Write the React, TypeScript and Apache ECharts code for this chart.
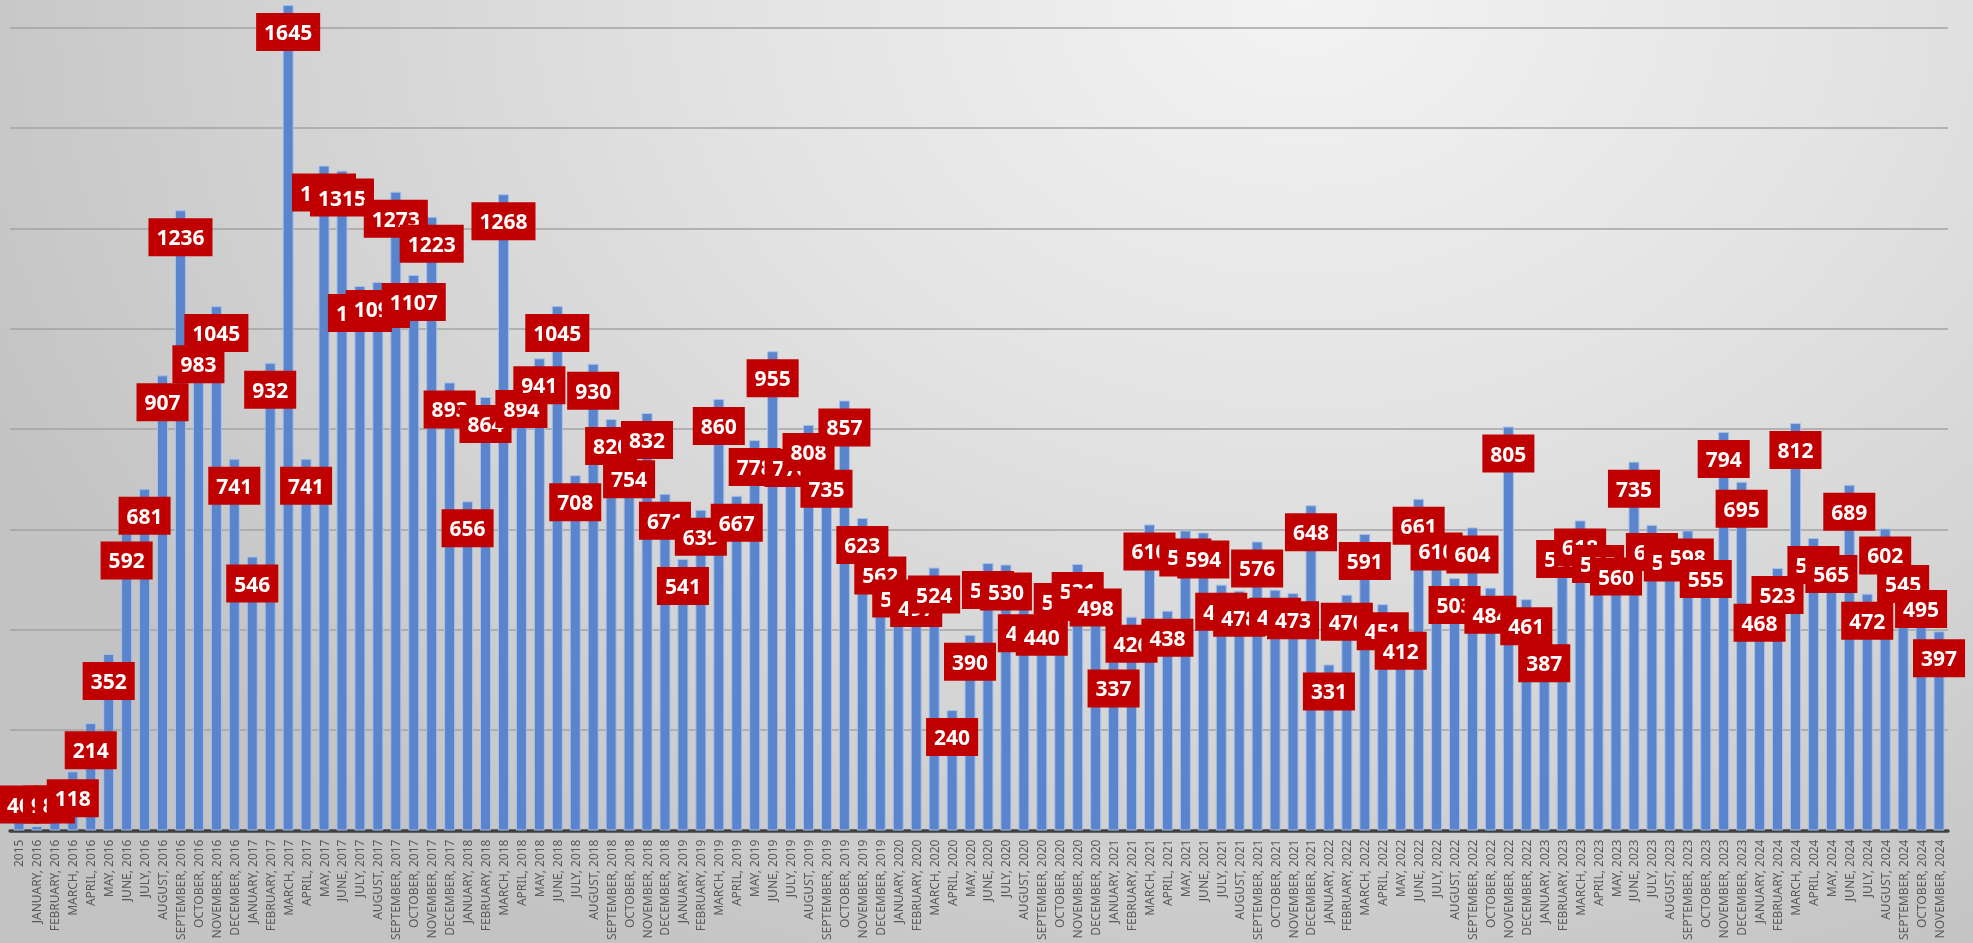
import React, { useEffect, useRef } from 'react';
import * as echarts from 'echarts';

const MONTHS = [
  'JANUARY', 'FEBRUARY', 'MARCH', 'APRIL', 'MAY', 'JUNE',
  'JULY', 'AUGUST', 'SEPTEMBER', 'OCTOBER', 'NOVEMBER', 'DECEMBER',
];
const YEARS = [2016, 2017, 2018, 2019, 2020, 2021, 2022, 2023, 2024];
const FIRST_LABEL = '2015';
const CATEGORY_COUNT = 108;

const categories: string[] = [
  FIRST_LABEL,
  ...YEARS.flatMap((y) => MONTHS.map((m) => `${m}, ${y}`)),
].slice(0, CATEGORY_COUNT);

// monthly values
const v2015 = [40];
const v2016 = [9, 85, 118, 214, 352, 592, 681, 907, 1236, 983, 1045, 741];
const v2017 = [546, 932, 1645, 741, 1325, 1315, 1085, 1093, 1273, 1107, 1223, 893];
const v2018 = [656, 864, 1268, 894, 941, 1045, 708, 930, 820, 754, 832, 671];
const v2019 = [541, 639, 860, 667, 778, 955, 776, 808, 735, 857, 623, 562];
const v2020 = [516, 497, 524, 240, 390, 533, 530, 447, 440, 509, 531, 498];
const v2021 = [337, 426, 610, 438, 598, 594, 490, 478, 576, 480, 473, 648];
const v2022 = [331, 470, 591, 451, 412, 661, 610, 503, 604, 484, 805, 461];
const v2023 = [387, 595, 618, 585, 560, 735, 609, 588, 598, 555, 794, 695];
const v2024 = [468, 523, 812, 583, 565, 689, 472, 602, 545, 495, 397];

const values: number[] = [
  ...v2015, ...v2016, ...v2017, ...v2018, ...v2019,
  ...v2020, ...v2021, ...v2022, ...v2023, ...v2024,
];

const Y_MAX = 1655;
const Y_INTERVAL = 200;
// bars too short to hold their label inside get it pinned to the bottom
const LOW_LABEL_LIMIT = 105;

export default function App() {
  const ref = useRef<HTMLDivElement>(null);

  useEffect(() => {
    const el = ref.current;
    if (!el) return;
    const chart = echarts.init(el, null, { renderer: 'svg' });
    const data = values.map((v) =>
      v < LOW_LABEL_LIMIT
        ? { value: v, label: { position: 'insideBottom', distance: 7 } }
        : v
    );
    chart.setOption({
      animation: false,
      backgroundColor: 'transparent',
      grid: { left: 10, right: 25, top: 0, bottom: 108, containLabel: false },
      xAxis: {
        type: 'category',
        data: categories,
        axisLine: { show: true, lineStyle: { color: '#404040', width: 3.5 } },
        axisTick: { show: false },
        axisLabel: {
          interval: 0,
          rotate: 90,
          color: '#595959',
          fontSize: 12,
          fontFamily: 'Noto Sans',
          margin: 9,
        },
      },
      yAxis: {
        type: 'value',
        min: 0,
        max: Y_MAX,
        interval: Y_INTERVAL,
        axisLabel: { show: false },
        axisLine: { show: false },
        axisTick: { show: false },
        splitLine: {
          show: true,
          showMaxLine: false,
          lineStyle: { color: '#a3a3a3', width: 1.5 },
        },
      },
      series: [
        {
          type: 'bar',
          data,
          barWidth: 11,
          itemStyle: { color: '#5a84cc', borderColor: '#a9c1e8', borderWidth: 1 },
          label: {
            show: true,
            position: 'insideTop',
            distance: 8,
            color: '#ffffff',
            fontWeight: 'bold',
            fontSize: 21,
            fontFamily: 'Noto Sans',
            backgroundColor: '#c00000',
            padding: [7, 8, 7, 8],
            lineHeight: 24,
          },
        },
      ],
    });
    return () => chart.dispose();
  }, []);

  return (
    <div
      ref={ref}
      style={{
        position: 'fixed',
        left: 0,
        top: 0,
        width: 1973,
        height: 943,
        background:
          'radial-gradient(ellipse 72% 115% at 66% 0%, #f3f3f3 0%, #e3e3e3 40%, #d1d1d1 75%, #c3c3c3 100%)',
      }}
    />
  );
}
